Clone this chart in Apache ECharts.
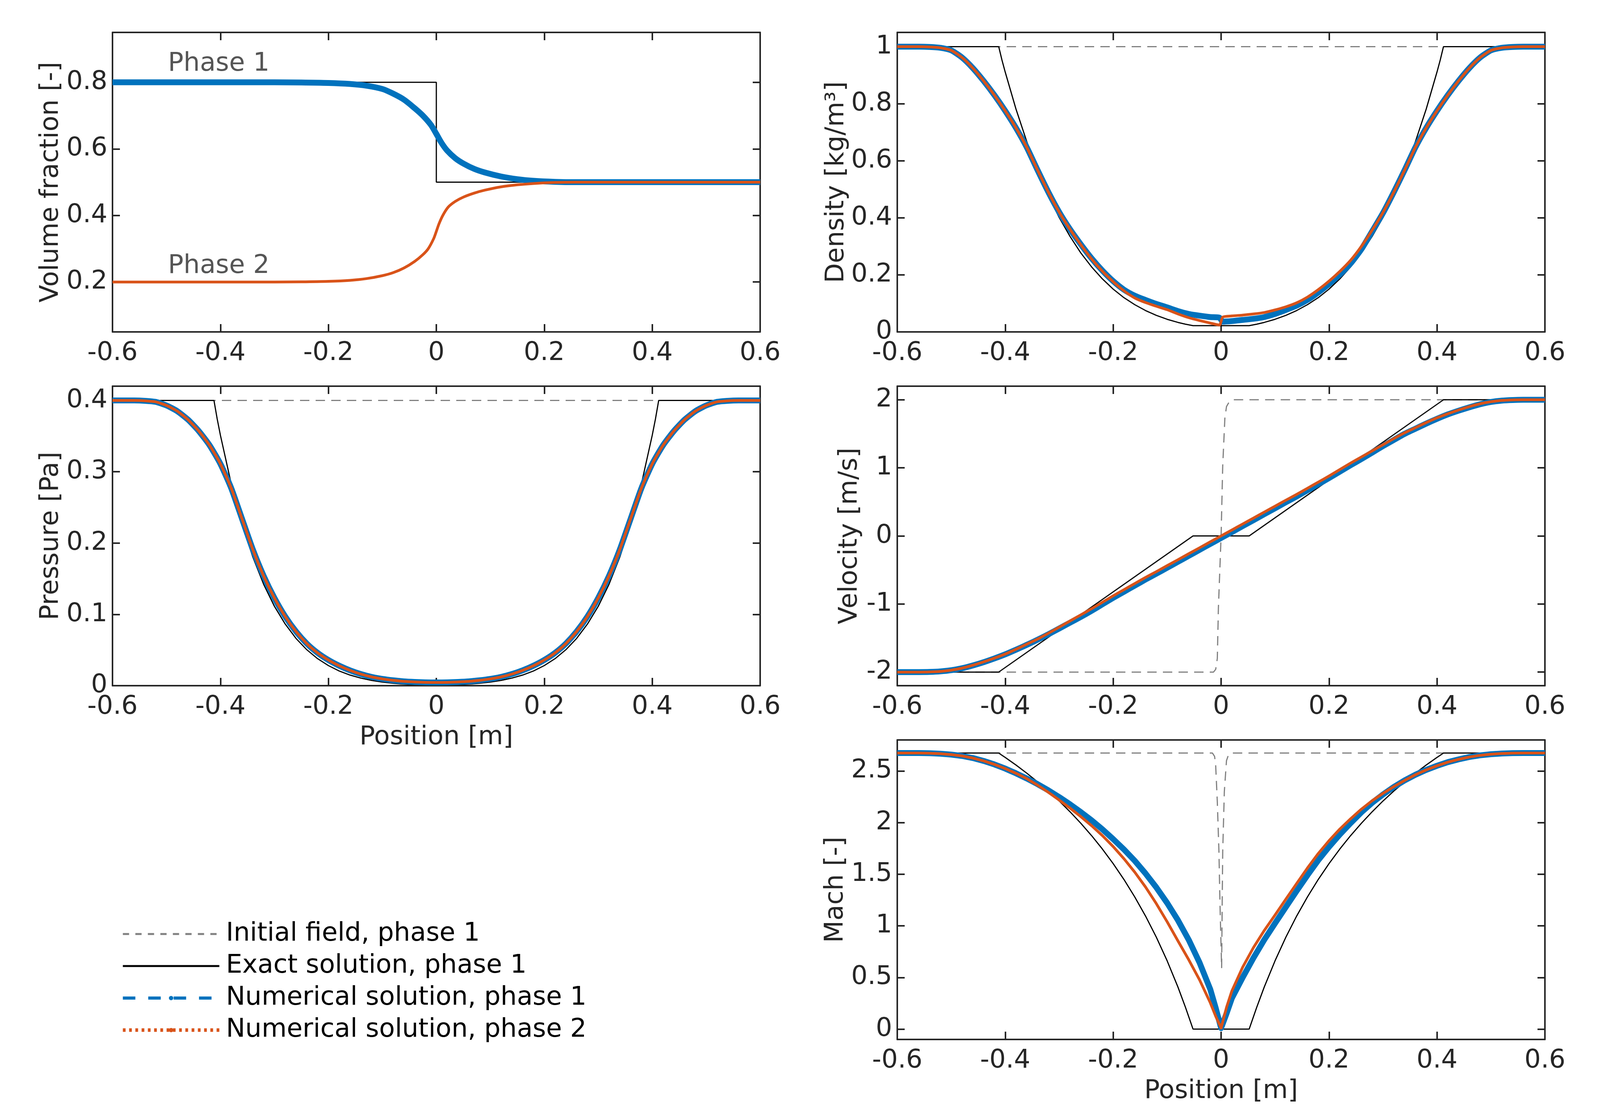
<!DOCTYPE html>
<html>
<head>
<meta charset="utf-8">
<title>Two-phase expansion test</title>
<script src="https://cdn.jsdelivr.net/npm/echarts@6/dist/echarts.min.js"></script>
<style>
  html, body { margin: 0; padding: 0; background: #fff; overflow: hidden; }
  #chart { width: 100vw; height: 100vh; }
</style>
</head>
<body>
<div id="chart"></div>
<script>
// ---- tick labels ----
var xTicks = [-0.6, -0.4, -0.2, 0, 0.2, 0.4, 0.6];
var volTicks = [0.2, 0.4, 0.6, 0.8];
var densTicks = [0, 0.2, 0.4, 0.6, 0.8, 1];
var presTicks = [0, 0.1, 0.2, 0.3, 0.4];
var velTicks = [-2, -1, 0, 1, 2];
var machTicks = [0, 0.5, 1, 1.5, 2, 2.5];

// ---- volume fraction ----
var volExact1 = [[-0.6, 0.8], [0, 0.8], [0, 0.5], [0.6, 0.5]];
var volNum1 = [[-0.6, 0.8], [-0.45, 0.8], [-0.3, 0.8], [-0.25, 0.7995], [-0.2, 0.798], [-0.16, 0.795], [-0.13, 0.79],
    [-0.1, 0.78], [-0.08, 0.766], [-0.06, 0.748], [-0.04, 0.722], [-0.025, 0.7], [-0.01, 0.672], [0, 0.645],
    [0.01, 0.617], [0.02, 0.595], [0.035, 0.572], [0.05, 0.556], [0.07, 0.54], [0.09, 0.529], [0.12, 0.517],
    [0.15, 0.509], [0.18, 0.504], [0.22, 0.501], [0.26, 0.5], [0.45, 0.5], [0.6, 0.5]];
var volNum2 = [[-0.6, 0.2], [-0.45, 0.2], [-0.3, 0.2], [-0.25, 0.2005], [-0.2, 0.202], [-0.16, 0.205], [-0.13, 0.21],
    [-0.1, 0.219], [-0.08, 0.228], [-0.06, 0.242], [-0.04, 0.262], [-0.025, 0.282], [-0.015, 0.3], [-0.005, 0.33],
    [0, 0.352], [0.005, 0.375], [0.012, 0.4], [0.022, 0.425], [0.035, 0.442], [0.05, 0.455], [0.07, 0.467],
    [0.09, 0.476], [0.12, 0.486], [0.15, 0.492], [0.18, 0.496], [0.22, 0.499], [0.26, 0.5], [0.45, 0.5], [0.6, 0.5]];

// ---- density ----
var densInit = [[-0.6, 1], [0.6, 1]];
var densExact = [[-0.6, 1], [-0.412, 1], [-0.406, 0.953], [-0.4, 0.911], [-0.38, 0.781], [-0.36, 0.667], [-0.34, 0.566],
    [-0.32, 0.478], [-0.3, 0.401], [-0.28, 0.335], [-0.26, 0.277], [-0.24, 0.228], [-0.22, 0.186], [-0.2, 0.15],
    [-0.18, 0.12], [-0.16, 0.0955], [-0.14, 0.0749], [-0.12, 0.0579], [-0.1, 0.0442], [-0.08, 0.0333], [-0.066, 0.027],
    [-0.052, 0.0218], [0.052, 0.0218], [0.066, 0.027], [0.08, 0.0333], [0.1, 0.0442], [0.12, 0.0579], [0.14, 0.0749],
    [0.16, 0.0955], [0.18, 0.12], [0.2, 0.15], [0.22, 0.186], [0.24, 0.228], [0.26, 0.277], [0.28, 0.335],
    [0.3, 0.401], [0.32, 0.478], [0.34, 0.566], [0.36, 0.667], [0.38, 0.781], [0.4, 0.911], [0.406, 0.953],
    [0.412, 1], [0.6, 1]];
var densNum1 = [[-0.6, 1], [-0.56, 1], [-0.54, 0.999], [-0.52, 0.996], [-0.5, 0.987], [-0.48, 0.962], [-0.46, 0.925],
    [-0.44, 0.88], [-0.42, 0.83], [-0.4, 0.775], [-0.38, 0.715], [-0.36, 0.647], [-0.34, 0.567], [-0.32, 0.49],
    [-0.3, 0.42], [-0.28, 0.36], [-0.26, 0.307], [-0.24, 0.258], [-0.22, 0.215], [-0.2, 0.178], [-0.18, 0.148],
    [-0.16, 0.127], [-0.14, 0.112], [-0.12, 0.098], [-0.1, 0.086], [-0.08, 0.073], [-0.06, 0.063], [-0.04, 0.057],
    [-0.02, 0.052], [-0.003, 0.05], [0.003, 0.036], [0.02, 0.038], [0.04, 0.042], [0.06, 0.046], [0.08, 0.052],
    [0.1, 0.063], [0.12, 0.077], [0.14, 0.092], [0.16, 0.112], [0.18, 0.138], [0.2, 0.168], [0.22, 0.201],
    [0.24, 0.24], [0.26, 0.29], [0.28, 0.353], [0.3, 0.417], [0.32, 0.49], [0.34, 0.567], [0.36, 0.647],
    [0.38, 0.715], [0.4, 0.775], [0.42, 0.83], [0.44, 0.88], [0.46, 0.925], [0.48, 0.962], [0.5, 0.987],
    [0.52, 0.996], [0.54, 0.999], [0.56, 1], [0.6, 1]];
var densNum2 = [[-0.6, 1], [-0.56, 1], [-0.54, 0.999], [-0.52, 0.996], [-0.5, 0.987], [-0.48, 0.962], [-0.46, 0.925],
    [-0.44, 0.88], [-0.42, 0.83], [-0.4, 0.775], [-0.38, 0.715], [-0.36, 0.647], [-0.34, 0.567], [-0.32, 0.49],
    [-0.3, 0.42], [-0.28, 0.36], [-0.26, 0.306], [-0.24, 0.256], [-0.22, 0.213], [-0.2, 0.176], [-0.18, 0.144],
    [-0.16, 0.119], [-0.14, 0.103], [-0.12, 0.09], [-0.1, 0.078], [-0.08, 0.063], [-0.06, 0.05], [-0.04, 0.04],
    [-0.02, 0.031], [-0.003, 0.024], [0.003, 0.052], [0.02, 0.056], [0.04, 0.059], [0.06, 0.063], [0.08, 0.068],
    [0.1, 0.077], [0.12, 0.088], [0.14, 0.102], [0.16, 0.122], [0.18, 0.148], [0.2, 0.178], [0.22, 0.212],
    [0.24, 0.251], [0.26, 0.3], [0.28, 0.357], [0.3, 0.419], [0.32, 0.49], [0.34, 0.567], [0.36, 0.647],
    [0.38, 0.715], [0.4, 0.775], [0.42, 0.83], [0.44, 0.88], [0.46, 0.925], [0.48, 0.962], [0.5, 0.987],
    [0.52, 0.996], [0.54, 0.999], [0.56, 1], [0.6, 1]];

// ---- pressure ----
var presInit = [[-0.6, 0.4], [0.6, 0.4]];
var presExact = [[-0.6, 0.4], [-0.412, 0.4], [-0.406, 0.374], [-0.4, 0.351], [-0.38, 0.283], [-0.36, 0.2267],
    [-0.34, 0.1804], [-0.32, 0.1422], [-0.3, 0.1113], [-0.28, 0.0864], [-0.26, 0.0663], [-0.24, 0.0504],
    [-0.22, 0.0379], [-0.2, 0.0282], [-0.18, 0.0206], [-0.16, 0.0149], [-0.14, 0.0106], [-0.12, 0.0074],
    [-0.1, 0.0051], [-0.08, 0.0034], [-0.066, 0.0025], [-0.052, 0.0019], [0.052, 0.0019], [0.066, 0.0025],
    [0.08, 0.0034], [0.1, 0.0051], [0.12, 0.0074], [0.14, 0.0106], [0.16, 0.0149], [0.18, 0.0206], [0.2, 0.0282],
    [0.22, 0.0379], [0.24, 0.0504], [0.26, 0.0663], [0.28, 0.0864], [0.3, 0.1113], [0.32, 0.1422], [0.34, 0.1804],
    [0.36, 0.2267], [0.38, 0.283], [0.4, 0.351], [0.406, 0.374], [0.412, 0.4], [0.6, 0.4]];
var presNum = [[-0.6, 0.4], [-0.56, 0.4], [-0.54, 0.3995], [-0.52, 0.398], [-0.5, 0.393], [-0.48, 0.385],
    [-0.46, 0.373], [-0.44, 0.357], [-0.42, 0.337], [-0.4, 0.311], [-0.38, 0.277], [-0.36, 0.234], [-0.34, 0.191],
    [-0.32, 0.154], [-0.3, 0.123], [-0.28, 0.097], [-0.26, 0.076], [-0.24, 0.059], [-0.22, 0.046], [-0.2, 0.036],
    [-0.18, 0.028], [-0.16, 0.0215], [-0.14, 0.0163], [-0.12, 0.0123], [-0.1, 0.0095], [-0.08, 0.0075], [-0.06, 0.006],
    [-0.04, 0.0052], [-0.02, 0.0047], [0, 0.0045], [0.02, 0.0047], [0.04, 0.0052], [0.06, 0.006], [0.08, 0.0075],
    [0.1, 0.0095], [0.12, 0.0123], [0.14, 0.0163], [0.16, 0.0215], [0.18, 0.028], [0.2, 0.036], [0.22, 0.046],
    [0.24, 0.059], [0.26, 0.076], [0.28, 0.097], [0.3, 0.123], [0.32, 0.154], [0.34, 0.191], [0.36, 0.234],
    [0.38, 0.277], [0.4, 0.311], [0.42, 0.337], [0.44, 0.357], [0.46, 0.373], [0.48, 0.385], [0.5, 0.393],
    [0.52, 0.398], [0.54, 0.3995], [0.56, 0.4], [0.6, 0.4]];

// ---- velocity ----
var velInit = [[-0.6, -2], [-0.014, -2], [-0.01, -1.96], [-0.007, -1.8], [-0.005, -1.06], [0, 0], [0.003, 1.03],
    [0.007, 1.73], [0.01, 1.9], [0.015, 1.97], [0.02, 2], [0.6, 2]];
var velExact = [[-0.6, -2], [-0.412, -2], [-0.052, 0], [0.052, 0], [0.412, 2], [0.6, 2]];
var velNum1 = [[-0.6, -2], [-0.56, -2], [-0.54, -1.998], [-0.52, -1.99], [-0.5, -1.973], [-0.48, -1.944],
    [-0.46, -1.903], [-0.44, -1.855], [-0.42, -1.8], [-0.4, -1.74], [-0.38, -1.672], [-0.36, -1.6], [-0.34, -1.525],
    [-0.32, -1.445], [-0.3, -1.36], [-0.28, -1.275], [-0.26, -1.19], [-0.24, -1.1], [-0.22, -1.005], [-0.2, -0.91],
    [-0.18, -0.82], [-0.16, -0.73], [-0.14, -0.64], [-0.12, -0.555], [-0.1, -0.467], [-0.08, -0.38], [-0.06, -0.292],
    [-0.04, -0.205], [-0.02, -0.117], [0, -0.03], [0.02, 0.057], [0.04, 0.145], [0.06, 0.232], [0.08, 0.32],
    [0.1, 0.407], [0.12, 0.495], [0.14, 0.58], [0.16, 0.67], [0.18, 0.76], [0.2, 0.85], [0.22, 0.945], [0.24, 1.04],
    [0.26, 1.13], [0.28, 1.225], [0.3, 1.32], [0.32, 1.41], [0.34, 1.5], [0.36, 1.575], [0.38, 1.65], [0.4, 1.72],
    [0.42, 1.785], [0.44, 1.84], [0.46, 1.89], [0.48, 1.935], [0.5, 1.968], [0.52, 1.988], [0.54, 1.997],
    [0.56, 2], [0.6, 2]];
var velNum2 = [[-0.6, -2], [-0.56, -2], [-0.54, -1.998], [-0.52, -1.99], [-0.5, -1.972], [-0.48, -1.942],
    [-0.46, -1.9], [-0.44, -1.85], [-0.42, -1.795], [-0.4, -1.735], [-0.38, -1.665], [-0.36, -1.59], [-0.34, -1.515],
    [-0.32, -1.43], [-0.3, -1.34], [-0.28, -1.25], [-0.26, -1.16], [-0.24, -1.07], [-0.22, -0.975], [-0.2, -0.88],
    [-0.18, -0.79], [-0.16, -0.7], [-0.14, -0.61], [-0.12, -0.525], [-0.1, -0.437], [-0.08, -0.35], [-0.06, -0.262],
    [-0.04, -0.175], [-0.02, -0.087], [0, 0], [0.02, 0.087], [0.04, 0.175], [0.06, 0.262], [0.08, 0.35],
    [0.1, 0.437], [0.12, 0.525], [0.14, 0.61], [0.16, 0.7], [0.18, 0.79], [0.2, 0.88], [0.22, 0.975], [0.24, 1.07],
    [0.26, 1.16], [0.28, 1.25], [0.3, 1.34], [0.32, 1.43], [0.34, 1.515], [0.36, 1.59], [0.38, 1.665], [0.4, 1.735],
    [0.42, 1.795], [0.44, 1.85], [0.46, 1.9], [0.48, 1.942], [0.5, 1.972], [0.52, 1.99], [0.54, 1.998],
    [0.56, 2], [0.6, 2]];

// ---- mach ----
var machInit = [[-0.6, 2.673], [-0.016, 2.673], [-0.012, 2.64], [-0.01, 2.55], [-0.007, 2.2], [-0.004, 1.72],
    [-0.002, 1.2], [0.001, 0.59], [0.002, 1.2], [0.003, 1.72], [0.006, 2.3], [0.01, 2.6], [0.014, 2.66],
    [0.02, 2.673], [0.6, 2.673]];
var machExact = [[-0.6, 2.673], [-0.412, 2.673], [-0.406, 2.652], [-0.4, 2.631], [-0.38, 2.557], [-0.36, 2.478],
    [-0.34, 2.394], [-0.32, 2.305], [-0.3, 2.209], [-0.28, 2.105], [-0.26, 1.994], [-0.24, 1.874], [-0.22, 1.744],
    [-0.2, 1.603], [-0.18, 1.449], [-0.16, 1.28], [-0.14, 1.095], [-0.12, 0.89], [-0.1, 0.662], [-0.08, 0.408],
    [-0.066, 0.211], [-0.052, 0], [0.052, 0], [0.066, 0.211], [0.08, 0.408], [0.1, 0.662], [0.12, 0.89],
    [0.14, 1.095], [0.16, 1.28], [0.18, 1.449], [0.2, 1.603], [0.22, 1.744], [0.24, 1.874], [0.26, 1.994],
    [0.28, 2.105], [0.3, 2.209], [0.32, 2.305], [0.34, 2.394], [0.36, 2.478], [0.38, 2.557], [0.4, 2.631],
    [0.406, 2.652], [0.412, 2.673], [0.6, 2.673]];
var machNum1 = [[-0.6, 2.673], [-0.56, 2.673], [-0.54, 2.671], [-0.52, 2.667], [-0.5, 2.658], [-0.48, 2.645],
    [-0.46, 2.625], [-0.44, 2.597], [-0.42, 2.563], [-0.4, 2.523], [-0.38, 2.477], [-0.36, 2.427], [-0.34, 2.372],
    [-0.32, 2.312], [-0.3, 2.247], [-0.28, 2.177], [-0.26, 2.102], [-0.24, 2.022], [-0.22, 1.935], [-0.2, 1.84],
    [-0.18, 1.74], [-0.16, 1.63], [-0.14, 1.507], [-0.12, 1.372], [-0.1, 1.222], [-0.08, 1.055], [-0.06, 0.865],
    [-0.04, 0.645], [-0.02, 0.385], [-0.01, 0.205], [0, 0.01], [0.01, 0.15], [0.02, 0.3], [0.04, 0.5], [0.06, 0.69],
    [0.08, 0.865], [0.1, 1.025], [0.12, 1.182], [0.14, 1.338], [0.16, 1.49], [0.18, 1.635], [0.2, 1.765],
    [0.22, 1.885], [0.24, 1.995], [0.26, 2.1], [0.28, 2.192], [0.3, 2.272], [0.32, 2.345], [0.34, 2.408],
    [0.36, 2.463], [0.38, 2.51], [0.4, 2.55], [0.42, 2.585], [0.44, 2.612], [0.46, 2.635], [0.48, 2.651],
    [0.5, 2.662], [0.52, 2.669], [0.54, 2.672], [0.56, 2.673], [0.6, 2.673]];
var machNum2 = [[-0.6, 2.673], [-0.56, 2.673], [-0.54, 2.671], [-0.52, 2.667], [-0.5, 2.658], [-0.48, 2.645],
    [-0.46, 2.625], [-0.44, 2.597], [-0.42, 2.563], [-0.4, 2.523], [-0.38, 2.477], [-0.36, 2.425], [-0.34, 2.362],
    [-0.32, 2.293], [-0.3, 2.218], [-0.28, 2.14], [-0.26, 2.058], [-0.24, 1.97], [-0.22, 1.874], [-0.2, 1.768],
    [-0.18, 1.65], [-0.16, 1.52], [-0.14, 1.376], [-0.12, 1.215], [-0.1, 1.04], [-0.08, 0.855], [-0.06, 0.672],
    [-0.04, 0.478], [-0.02, 0.255], [-0.01, 0.125], [0, 0.01], [0.01, 0.21], [0.02, 0.37], [0.04, 0.6], [0.06, 0.79],
    [0.08, 0.955], [0.1, 1.105], [0.12, 1.258], [0.14, 1.41], [0.16, 1.56], [0.18, 1.7], [0.2, 1.825], [0.22, 1.937],
    [0.24, 2.037], [0.26, 2.13], [0.28, 2.212], [0.3, 2.283], [0.32, 2.348], [0.34, 2.408], [0.36, 2.463],
    [0.38, 2.51], [0.4, 2.55], [0.42, 2.585], [0.44, 2.612], [0.46, 2.635], [0.48, 2.651], [0.5, 2.662],
    [0.52, 2.669], [0.54, 2.672], [0.56, 2.673], [0.6, 2.673]];

var INIT = 'Initial field, phase 1';
var EXACT = 'Exact solution, phase 1';
var NUM1 = 'Numerical solution, phase 1';
var NUM2 = 'Numerical solution, phase 2';

var ink = '#262626';
var font = 'DejaVu Sans';
var fs = 66;

// layout is measured on a 4252 px wide page; squeeze it to the real window width
var sx = (window.innerWidth || 4252) / 4252;
function hx(v) { return Math.round(v * sx); }

var chart = echarts.init(document.getElementById('chart'), null, {renderer: 'canvas'});

// grid boxes, in the order: volume fraction, density, pressure, velocity, mach
var grids = [
    {left: hx(299), top: 83, width: hx(1721), height: 767},
    {left: hx(2384), top: 83, width: hx(1721), height: 767},
    {left: hx(299), top: 989, width: hx(1721), height: 767},
    {left: hx(2384), top: 989, width: hx(1721), height: 767},
    {left: hx(2384), top: 1895, width: hx(1721), height: 767}
];
var yDefs = [
    {min: 0.05, max: 0.95, ticks: volTicks, name: 'Volume fraction [-]', gap: 124},
    {min: 0, max: 1.05, ticks: densTicks, name: 'Density [kg/m³]', gap: 120},
    {min: 0, max: 0.42, ticks: presTicks, name: 'Pressure [Pa]', gap: 124},
    {min: -2.2, max: 2.2, ticks: velTicks, name: 'Velocity [m/s]', gap: 88},
    {min: -0.1, max: 2.8, ticks: machTicks, name: 'Mach [-]', gap: 124}
];
var xNamed = [false, false, true, false, true];
// numerical curves are smoothed a little, except the sharp Mach dip
var smoothBy = [0.3, 0.2, 0.2, 0.2, false];

function axisCommon(ticks, showLabel, labelMargin, tickLen) {
    return {
        axisLine: {show: true, onZero: false, lineStyle: {color: ink, width: 4}},
        axisTick: {show: true, inside: true, length: tickLen, customValues: ticks, lineStyle: {color: ink, width: 4}},
        axisLabel: {
            show: showLabel, customValues: ticks, margin: labelMargin, color: ink,
            fontSize: fs, fontFamily: font,
            formatter: function (v) { return String(v); }
        },
        splitLine: {show: false}
    };
}

var xAxes = [], yAxes = [];
grids.forEach(function (g, i) {
    xAxes.push(Object.assign({
        type: 'value', gridIndex: i, min: -0.6, max: 0.6, position: 'bottom',
        name: xNamed[i] ? 'Position [m]' : '', nameLocation: 'middle', nameGap: 100,
        nameTextStyle: {color: ink, fontSize: fs, fontFamily: font}
    }, axisCommon(xTicks, true, 22, 20)));
    xAxes.push(Object.assign({
        type: 'value', gridIndex: i, min: -0.6, max: 0.6, position: 'top'
    }, axisCommon(xTicks, false, 22, 20)));
    var d = yDefs[i];
    yAxes.push(Object.assign({
        type: 'value', gridIndex: i, min: d.min, max: d.max, position: 'left',
        name: d.name, nameLocation: 'middle', nameGap: d.gap,
        nameTextStyle: {color: ink, fontSize: fs, fontFamily: font}
    }, axisCommon(d.ticks, true, 13, hx(20))));
    yAxes.push(Object.assign({
        type: 'value', gridIndex: i, min: d.min, max: d.max, position: 'right'
    }, axisCommon(d.ticks, false, 13, hx(20))));
});

var styles = {};
styles[INIT] = {symbol: 'none', lineStyle: {color: '#808080', width: 3, type: [24, 16]}, itemStyle: {color: '#808080'}, z: 2};
styles[EXACT] = {symbol: 'none', lineStyle: {color: '#000000', width: 3}, itemStyle: {color: '#000000'}, z: 3};
styles[NUM1] = {symbol: 'circle', lineStyle: {color: '#0072BD', width: 15, join: 'round'}, itemStyle: {color: '#0072BD'}, z: 4};
styles[NUM2] = {symbol: 'circle', lineStyle: {color: '#D95319', width: 7, join: 'round'}, itemStyle: {color: '#D95319'}, z: 5};

function line(name, g, data) {
    var s = Object.assign({
        type: 'line', name: name, xAxisIndex: 2 * g, yAxisIndex: 2 * g, data: data,
        showSymbol: false, silent: true, animation: false
    }, styles[name]);
    if (name === NUM1 || name === NUM2) s.smooth = smoothBy[g];
    return s;
}

var series = [
    line(EXACT, 0, volExact1), line(NUM1, 0, volNum1), line(NUM2, 0, volNum2),
    line(INIT, 1, densInit), line(EXACT, 1, densExact), line(NUM1, 1, densNum1), line(NUM2, 1, densNum2),
    line(INIT, 2, presInit), line(EXACT, 2, presExact), line(NUM1, 2, presNum), line(NUM2, 2, presNum),
    line(INIT, 3, velInit), line(EXACT, 3, velExact), line(NUM1, 3, velNum1), line(NUM2, 3, velNum2),
    line(INIT, 4, machInit), line(EXACT, 4, machExact), line(NUM1, 4, machNum1), line(NUM2, 4, machNum2)
];

chart.setOption({
    backgroundColor: '#ffffff',
    animation: false,
    textStyle: {fontFamily: font},
    grid: grids,
    xAxis: xAxes,
    yAxis: yAxes,
    legend: {
        orient: 'vertical',
        left: hx(317),
        top: 2354,
        itemWidth: hx(256),
        itemHeight: 14,
        itemGap: 16,
        selectedMode: false,
        textStyle: {color: '#000', fontSize: fs, fontFamily: font, lineHeight: 66, padding: [0, 0, 0, 12]},
        data: [
            {name: INIT, itemStyle: {opacity: 0}, lineStyle: {width: 5, type: [16, 16]}},
            {name: EXACT, itemStyle: {opacity: 0}, lineStyle: {width: 5}},
            {name: NUM1, lineStyle: {width: 8, type: [32, 33]}},
            {name: NUM2, lineStyle: {width: 9, type: [7, 9]}}
        ]
    },
    graphic: [
        {type: 'text', left: hx(446), top: 131, style: {text: 'Phase 1', fontSize: fs, fontFamily: font, fill: '#555555'}},
        {type: 'text', left: hx(446), top: 649, style: {text: 'Phase 2', fontSize: fs, fontFamily: font, fill: '#555555'}}
    ],
    series: series
});
</script>
</body>
</html>
